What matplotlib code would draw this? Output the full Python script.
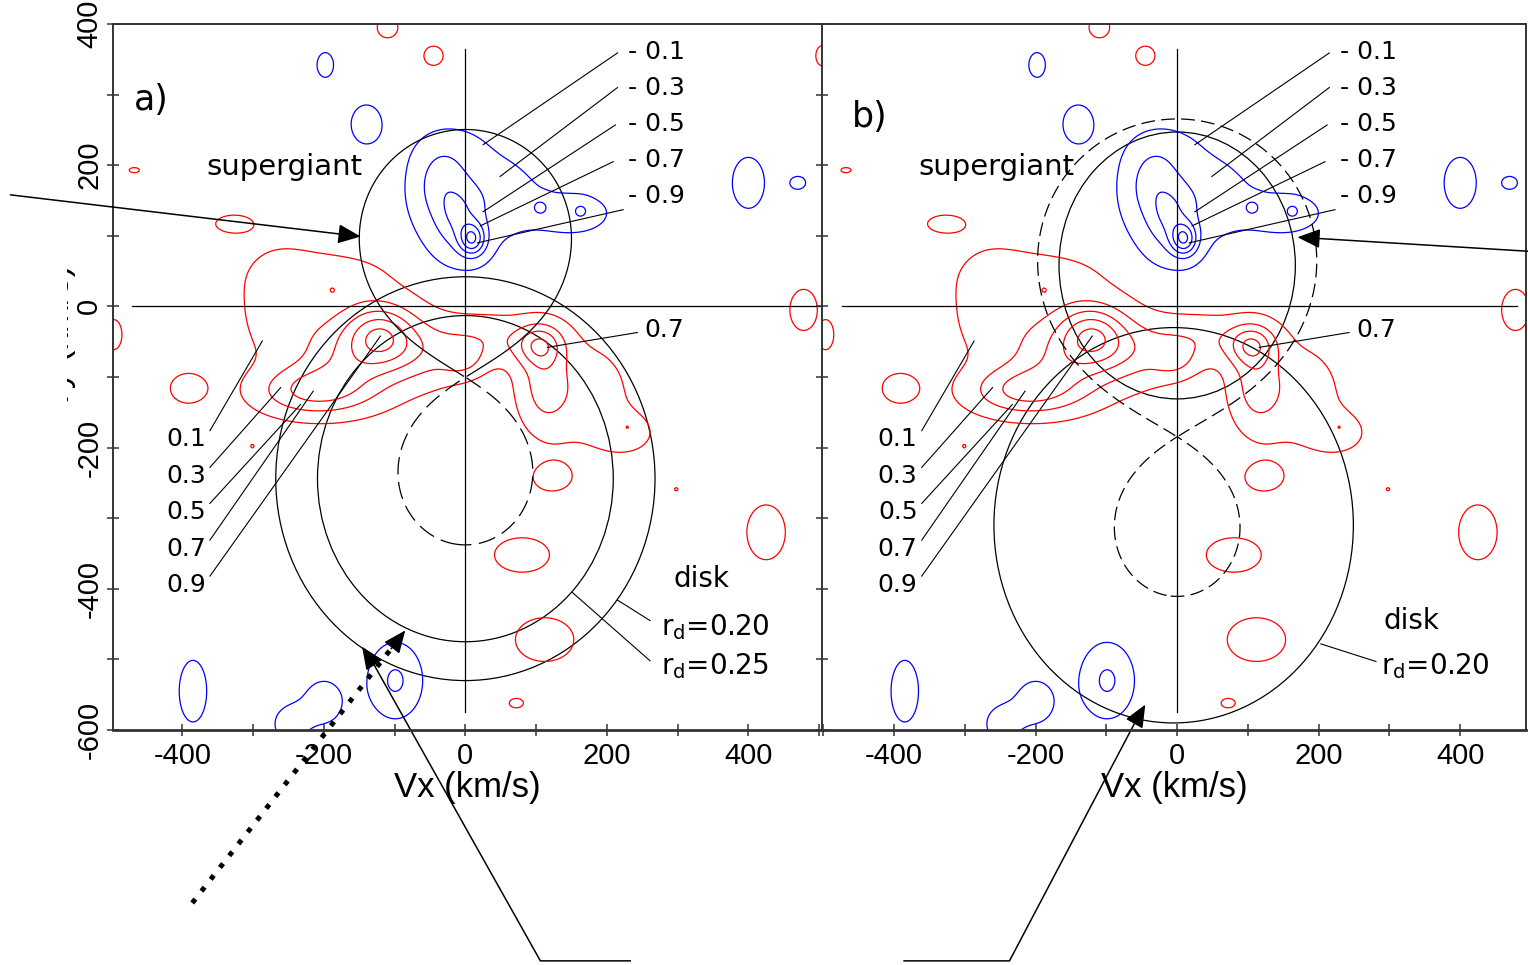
import numpy as np
import matplotlib
matplotlib.use("Agg")
import matplotlib.pyplot as plt
from matplotlib.patches import Ellipse
from matplotlib.ticker import MultipleLocator
from matplotlib.transforms import Bbox

plt.rcParams["axes.unicode_minus"] = False

# contour levels of the tomograms (fraction of the peak)
levels = [0.1, 0.3, 0.5, 0.7, 0.9]

# red map: emission spots (km/s), widths and heights
red_vx = [-120, -150, -215, -265, -190, -60, -5, 45, 105, 112, 175, 230, -165,
          -497, -392, -328, -468, -110, -45, 122, 80, 112, 72, 425, 478, 505,
          -301, 229, 298, -188]
red_vy = [-40, -55, -120, 10, 45, -65, -75, -45, -55, -110, -125, -180, -80,
          -40, -116, 117, 193, 395, 355, -243, -352, -472, -562, -320, -5, 355,
          -198, -171, -259, 23]
red_sx = [32, 70, 55, 40, 60, 55, 20, 50, 22, 26, 45, 30, 40,
          12, 24, 25, 10, 15, 14, 25, 40, 40, 12, 28, 20, 10,
          4, 4, 4, 4]
red_sy = [28, 50, 24, 55, 25, 30, 16, 24, 20, 45, 55, 22, 30,
          22, 20, 12, 5, 15, 14, 18, 25, 30, 8, 40, 30, 15,
          4, 4, 4, 4]
red_amp = [0.55, 0.33, 0.50, 0.17, 0.14, 0.26, 0.22, 0.21, 0.50, 0.35, 0.18, 0.14, 0.15,
           0.16, 0.17, 0.16, 0.13, 0.16, 0.16, 0.16, 0.16, 0.17, 0.14, 0.16, 0.16, 0.16,
           0.12, 0.12, 0.12, 0.12]

# blue map: supergiant spot plus isolated features
blue_vx = [10, -10, -40, -5, 60, 150, -20, 106, 163, -198, -140, 400, 470,
           -385, -200, -250, -99]
blue_vy = [95, 125, 175, 145, 165, 132, 220, 140, 135, 342, 258, 175, 175,
           -545, -560, -592, -530]
blue_sx = [13, 22, 25, 50, 30, 55, 35, 9, 8, 12, 22, 22, 12,
           20, 28, 20, 25]
blue_sy = [16, 32, 35, 62, 30, 30, 25, 9, 8, 18, 28, 35, 10,
           45, 32, 22, 35]
blue_amp = [0.68, 0.30, 0.22, 0.22, 0.10, 0.15, 0.08, 0.23, 0.23, 0.16, 0.16, 0.17, 0.15,
            0.16, 0.15, 0.15, 0.33]

# binary parameters used for the Roche lobes (K1, K2 in km/s)
k_a = (232, 92)
k_b = (310, 60)

# disk / star circles: centre Vx, centre Vy, half width, half height
disk_a = [(0, -244, 268, 286), (0, -244, 209, 231)]
disk_b = [(-5, -310, 254, 280)]
star_b = [(0, 58, 167, 189)]

# contour-level labels and where their leaders end
left_labels = ["0.1", "0.3", "0.5", "0.7", "0.9"]
left_label_vy = [-188, -240, -291, -343, -394]
left_leader_end = [(-287, -49), (-261, -115), (-233, -139), (-215, -120), (-120, -42)]
right_labels = ["- 0.1", "- 0.3", "- 0.5", "- 0.7", "- 0.9"]
right_label_vy = [360, 309, 258, 208, 156]
right_leader_start = [(215, 359), (215, 310), (212, 257), (209, 205), (223, 137)]
right_leader_end = [(25, 229), (49, 184), (25, 134), (21, 114), (17, 90)]

FS_TXT = "DejaVu Sans"
FS_AX = "Liberation Sans"


def blob_field(vx, vy, sx, sy, amp, gx, gy):
    z = np.zeros_like(gx)
    for x0, y0, a, b, h in zip(vx, vy, sx, sy, amp):
        z += h * np.exp(-0.5 * (((gx - x0) / a) ** 2 + ((gy - y0) / b) ** 2))
    return z


def draw_roche(ax, k1, k2, sec_style, pri_style):
    s = k1 + k2
    mu = k1 / s
    gx, gy = np.meshgrid(np.arange(-519, 521, 2.0), np.arange(-639, 441, 2.0))
    x = gy / s + mu
    y = gx / s
    phi = -(1 - mu) / np.hypot(x, y) - mu / np.hypot(x - 1, y) - 0.5 * ((x - mu) ** 2 + y ** 2)
    xs = np.linspace(0.02, 0.98, 20001)
    pa = -(1 - mu) / xs - mu / (1 - xs) - 0.5 * (xs - mu) ** 2
    xl1, pl1 = xs[pa.argmax()], pa.max()
    far = np.hypot(x - mu, y) > 1.14
    for side, ls in ((x < xl1, pri_style), (x > xl1, sec_style)):
        z = np.ma.masked_where(far | ~side, phi)
        cs = ax.contour(gx, gy, z, levels=[pl1 - 1e-6], colors="k", linewidths=0.9)
        cs.set_linestyle(ls)


def arrow(ax, tip, start, lw=1.1):
    ax.annotate("", xy=tip, xytext=start, annotation_clip=False,
                arrowprops=dict(arrowstyle="-|>,head_length=0.7,head_width=0.3",
                                color="k", lw=lw, shrinkA=0, shrinkB=0,
                                mutation_scale=20))


gx, gy = np.meshgrid(np.arange(-520, 531, 2.0), np.arange(-620, 421, 2.0))
red = blob_field(red_vx, red_vy, red_sx, red_sy, red_amp, gx, gy)
blue = blob_field(blue_vx, blue_vy, blue_sx, blue_sy, blue_amp, gx, gy)

fig = plt.figure(figsize=(15.28, 9.65), dpi=100)
ax_a = fig.add_axes([113 / 1528, 1 - 730 / 965, 709 / 1528, 706 / 965])
ax_b = fig.add_axes([822 / 1528, 1 - 730 / 965, 704 / 1528, 706 / 965])
ax_a.set_xlim(-498, 504)
ax_b.set_xlim(-502, 493)

for ax in (ax_a, ax_b):
    ax.set_ylim(-600, 400)
    ax.contour(gx, gy, red, levels=levels, colors="#ff0000", linewidths=0.9)
    ax.contour(gx, gy, blue, levels=levels, colors="#0000ff", linewidths=0.9)
    ax.plot([0, 0], [-575, 365], color="k", lw=0.9)
    ax.xaxis.set_major_locator(MultipleLocator(200))
    ax.xaxis.set_minor_locator(MultipleLocator(100))
    ax.yaxis.set_major_locator(MultipleLocator(200))
    ax.yaxis.set_minor_locator(MultipleLocator(100))
    ax.tick_params(which="both", direction="inout", length=8, width=1.1,
                   color="#333333", labelsize=21)
    ax.tick_params(axis="x", pad=5)
    ax.tick_params(axis="y", labelrotation=90, pad=3)
    for sp in ax.spines.values():
        sp.set_color("#333333")
        sp.set_linewidth(1.4)
    ax.spines["bottom"].set_linewidth(2.0)
    for lab in ax.get_xticklabels() + ax.get_yticklabels():
        lab.set_fontfamily(FS_AX)
    ax.set_xlabel("Vx (km/s)", fontsize=25, family=FS_AX, labelpad=0)

    # contour level labels
    for t, vy, end in zip(left_labels, left_label_vy, left_leader_end):
        ax.text(-367, vy, t, ha="right", va="center", fontsize=18, family=FS_TXT)
        ax.plot([-361, end[0]], [vy + 12, end[1]], color="k", lw=0.8)
    for t, vy, st, end in zip(right_labels, right_label_vy, right_leader_start, right_leader_end):
        ax.text(230, vy, t, ha="left", va="center", fontsize=18, family=FS_TXT)
        ax.plot([st[0], end[0]], [st[1], end[1]], color="k", lw=0.8)
    ax.text(253, -33, "0.7", ha="left", va="center", fontsize=18, family=FS_TXT)
    ax.plot([243, 116], [-37, -58], color="k", lw=0.8)
    ax.text(-366, 198, "supergiant", ha="left", va="center", fontsize=21, family=FS_TXT)

for lab in ax_a.get_yticklabels():
    lab.set_va("center")
ax_b.tick_params(axis="y", labelleft=False)
ax_a.spines["right"].set_visible(False)

# panel a
ax_a.plot([-471, 504], [0, 0], color="k", lw=0.9)
draw_roche(ax_a, k_a[0], k_a[1], "solid", (0, (14, 6)))
for cx, cy, w, h in disk_a:
    ax_a.add_patch(Ellipse((cx, cy), 2 * w, 2 * h, fill=False, ec="k", lw=0.9))
ax_a.text(-469, 293, "a)", ha="left", va="center", fontsize=25, family=FS_TXT)
ax_a.text(294, -386, "disk", ha="left", va="center", fontsize=20, family=FS_TXT)
ax_a.text(276, -454, r"r$_{\mathrm{d}}$=0.20", ha="left", va="center", fontsize=20, family=FS_TXT)
ax_a.text(276, -510, r"r$_{\mathrm{d}}$=0.25", ha="left", va="center", fontsize=20, family=FS_TXT)
ax_a.plot([261, 215], [-445, -416], color="k", lw=0.8)
ax_a.plot([261, 151], [-502, -405], color="k", lw=0.8)
arrow(ax_a, (-148, 99), (-643, 158))
# arrows from below the panel
ax_a.plot([-386, -105], [-845, -485], color="k", lw=3.6, ls=(0, (1, 2)),
          dash_capstyle="butt", clip_on=False)
arrow(ax_a, (-85, -459), (-105, -485), lw=1.0)
ax_a.plot([233, 106, -130], [-927, -927, -506], color="k", lw=1.1, clip_on=False)
arrow(ax_a, (-146, -482), (-130, -506))

# panel b
ax_b.plot([-474, 480], [0, 0], color="k", lw=0.9)
draw_roche(ax_b, k_b[0], k_b[1], (0, (11, 5)), (0, (11, 5)))
for cx, cy, w, h in disk_b + star_b:
    ax_b.add_patch(Ellipse((cx, cy), 2 * w, 2 * h, fill=False, ec="k", lw=0.9))
ax_b.text(-460, 268, "b)", ha="left", va="center", fontsize=25, family=FS_TXT)
ax_b.text(292, -445, "disk", ha="left", va="center", fontsize=20, family=FS_TXT)
ax_b.text(288, -509, r"r$_{\mathrm{d}}$=0.20", ha="left", va="center", fontsize=20, family=FS_TXT)
ax_b.plot([281, 203], [-503, -478], color="k", lw=0.8)
arrow(ax_b, (170, 98), (498, 78))
ax_b.plot([-386, -237, -60], [-927, -927, -590], color="k", lw=1.1, clip_on=False)
arrow(ax_b, (-45, -564), (-60, -590))

# y label, mostly cut off at the left edge as in the original
t = fig.text(76 / 1528, 1 - 337 / 965, "Vy (km/s)", rotation=90, ha="right", va="center",
             fontsize=25, family=FS_AX)
t.set_clip_box(Bbox([[67, 965 - 440], [77, 965 - 235]]))
t.set_clip_on(True)

fig.savefig("out.png", dpi=100)
